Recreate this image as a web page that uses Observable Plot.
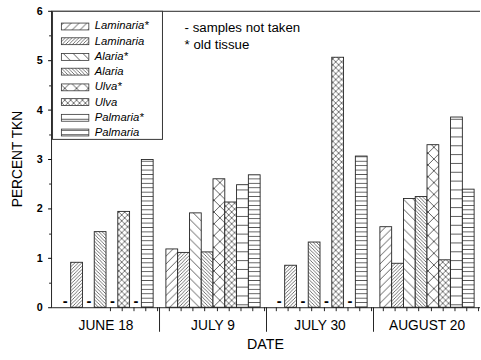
<!DOCTYPE html>
<html><head><meta charset="utf-8">
<script src="https://cdn.jsdelivr.net/npm/d3@7"></script>
<script src="https://cdn.jsdelivr.net/npm/@observablehq/plot@0.6"></script>
<style>
html,body{margin:0;padding:0;overflow:hidden;background:#fff;}
#chart{position:relative;width:481px;height:360px;overflow:hidden;}
#chart svg [aria-label^="y-axis"] text{font-weight:bold !important;font-size:11px !important;}
#chart svg [aria-label^="fx-axis"] text{font-size:14px !important;}
</style></head><body>
<svg width="0" height="0" style="position:absolute">
<defs>
<pattern id="pLamOld" patternUnits="userSpaceOnUse" width="8" height="8"><rect width="8" height="8" fill="#fff"/><path d="M-1,1 L1,-1 M0,8 L8,0 M7,9 L9,7" stroke="#333" stroke-width="0.8"/></pattern>
<pattern id="pLam" patternUnits="userSpaceOnUse" width="3.5" height="3.5"><rect width="3.5" height="3.5" fill="#fff"/><path d="M-1,1 L1,-1 M0,3.5 L3.5,0 M2.5,4.5 L4.5,2.5" stroke="#333" stroke-width="0.7"/></pattern>
<pattern id="pAlaOld" patternUnits="userSpaceOnUse" width="10" height="10"><rect width="10" height="10" fill="#fff"/><path d="M-1,9 L1,11 M0,0 L10,10 M9,-1 L11,1" stroke="#333" stroke-width="0.8"/></pattern>
<pattern id="pAla" patternUnits="userSpaceOnUse" width="3.5" height="3.5"><rect width="3.5" height="3.5" fill="#fff"/><path d="M-1,2.5 L1,4.5 M0,0 L3.5,3.5 M2.5,-1 L4.5,1" stroke="#333" stroke-width="0.7"/></pattern>
<pattern id="pUlvOld" patternUnits="userSpaceOnUse" width="12" height="12"><rect width="12" height="12" fill="#fff"/><path d="M0,0 L12,12 M0,12 L12,0" stroke="#333" stroke-width="0.8"/></pattern>
<pattern id="pUlv" patternUnits="userSpaceOnUse" width="6" height="6"><rect width="6" height="6" fill="#fff"/><path d="M0,0 L6,6 M0,6 L6,0" stroke="#333" stroke-width="0.7"/></pattern>
<pattern id="pPalOld" patternUnits="userSpaceOnUse" width="6" height="9"><rect width="6" height="9" fill="#fff"/><path d="M0,4.5 L6,4.5" stroke="#333" stroke-width="0.8"/></pattern>
<pattern id="pPal" patternUnits="userSpaceOnUse" width="6" height="4.5"><rect width="6" height="4.5" fill="#fff"/><path d="M0,2.25 L6,2.25" stroke="#333" stroke-width="0.8"/></pattern>
</defs></svg>
<div id="chart"></div>
<script>
// ---- data ----
const dates = ["JUNE 18", "JULY 9", "JULY 30", "AUGUST 20"];
const series = ["Laminaria*", "Laminaria", "Alaria*", "Alaria", "Ulva*", "Ulva", "Palmaria*", "Palmaria"];
const laminariaOld = [null, 1.18, null, 1.63];
const laminaria    = [0.91, 1.11, 0.85, 0.89];
const alariaOld    = [null, 1.91, null, 2.20];
const alaria       = [1.53, 1.12, 1.32, 2.24];
const ulvaOld      = [null, 2.60, null, 3.29];
const ulva         = [1.94, 2.13, 5.06, 0.96];
const palmariaOld  = [null, 2.48, null, 3.85];
const palmaria     = [2.99, 2.68, 3.06, 2.39];
const yTicks = [0, 1, 2, 3, 4, 5, 6];
const yMinor = [0.5, 1.5, 2.5, 3.5, 4.5, 5.5];
const notes = ["- samples not taken", "* old tissue"];
const patterns = ["url(#pLamOld)", "url(#pLam)", "url(#pAlaOld)", "url(#pAla)", "url(#pUlvOld)", "url(#pUlv)", "url(#pPalOld)", "url(#pPal)"];

const seriesValues = [laminariaOld, laminaria, alariaOld, alaria, ulvaOld, ulva, palmariaOld, palmaria];
const data = [];
dates.forEach((d, i) => seriesValues.forEach((arr, j) => data.push({date: d, series: series[j], value: arr[i]})));

const W = 490, H = 360, ML = 52, MR = 1, MT = 11, MB = 47;
const FONT = "'Liberation Sans', Arial, Helvetica, sans-serif";

const plot = Plot.plot({
  width: W, height: H,
  marginLeft: ML, marginRight: MR, marginTop: MT, marginBottom: MB,
  style: {fontFamily: FONT, fontSize: "11px", background: "white", color: "black", overflow: "visible"},
  facet: {data, x: "date", marginBottom: MB},
  fx: {domain: dates, padding: 0, axis: "bottom", tickSize: 0, tickPadding: 13, label: null},
  x: {domain: series, paddingInner: 0, paddingOuter: 0.44, axis: null},
  y: {domain: [0, 6], ticks: yTicks, tickSize: 4, tickPadding: 6, label: null, tickFormat: d3.format("d")},
  color: {domain: series, range: patterns},
  marks: [
    Plot.barY(data, {filter: d => d.value != null, x: "series", y: "value", fill: "series", stroke: "#222", strokeWidth: 0.9}),
    Plot.text(data, {filter: d => d.value == null, x: "series", y: () => 0, text: () => "-", dy: -7, fontWeight: "bold", fontSize: 15, fill: "#000"}),
    Plot.ruleY([0, 6], {stroke: "#222"})
  ]
});
document.getElementById("chart").appendChild(plot);

// ---- decorations using Plot's scales ----
const svg = d3.select(plot);
const y0 = H - MB;
const sy = plot.scale("y");
const yPos = v => (sy && sy.apply) ? sy.apply(v) : MT + (6 - v) / 6 * (y0 - MT);
const sfx = plot.scale("fx");
const sx = plot.scale("x");
const facetW = (W - ML - MR) / dates.length;
const step = facetW / (series.length + 2 * 0.44);
const fxPos = d => (sfx && sfx.apply) ? sfx.apply(d) : ML + dates.indexOf(d) * facetW;
const xPos = s => (sx && sx.apply) ? sx.apply(s) : step * (0.44 + series.indexOf(s));
const bw = (sx && sx.bandwidth) ? sx.bandwidth : step;

const g = svg.append("g").attr("stroke", "#222").attr("fill", "none");
// left axis line
g.append("line").attr("x1", ML + 0.5).attr("x2", ML + 0.5).attr("y1", MT).attr("y2", y0 + 0.5);
// minor y ticks
yMinor.forEach(v => {
  const yy = Math.round(yPos(v)) + 0.5;
  g.append("line").attr("x1", ML - 2).attr("x2", ML).attr("y1", yy).attr("y2", yy);
});
// slot ticks and group separators
dates.forEach((d, i) => {
  const gx = fxPos(d);
  series.forEach(s => {
    const xl = Math.round(gx + xPos(s)) + 0.5;
    g.append("line").attr("x1", xl).attr("x2", xl).attr("y1", y0).attr("y2", y0 + 4);
  });
  const xr = Math.round(gx + xPos(series[series.length - 1]) + bw) + 0.5;
  g.append("line").attr("x1", xr).attr("x2", xr).attr("y1", y0).attr("y2", y0 + 4);
  if (i > 0) {
    const sxp = Math.round(gx) + 0.5;
    g.append("line").attr("x1", sxp).attr("x2", sxp).attr("y1", y0).attr("y2", y0 + 25);
  }
});

// legend box
const lg = svg.append("g").attr("font-family", FONT).attr("text-anchor", "start");
lg.append("rect").attr("x", ML + 1.5).attr("y", MT + 0.5).attr("width", 112).attr("height", 130.5)
  .attr("fill", "#fff").attr("stroke", "#333");
series.forEach((s, i) => {
  const cy = 26 + i * 15.5;
  lg.append("rect").attr("x", 62.5).attr("y", Math.round(cy - 3.5) + 0.5).attr("width", 28).attr("height", 7)
    .attr("fill", patterns[i]).attr("stroke", "#333").attr("stroke-width", 0.8);
  lg.append("text").attr("x", 96.5).attr("y", cy + 4).attr("font-size", 11.5).attr("font-style", "italic")
    .attr("text-anchor", "start").attr("fill", "#000").text(s);
});

// notes
notes.forEach((t, i) => {
  svg.append("text").attr("x", 188).attr("y", 33 + i * 17).attr("font-family", FONT).attr("font-size", 13.5)
    .attr("text-anchor", "start").attr("fill", "#000").text(t);
});

// axis titles
svg.append("text").attr("transform", `translate(22,${(MT + y0) / 2}) rotate(-90)`).attr("text-anchor", "middle")
  .attr("font-family", FONT).attr("font-size", 14).attr("fill", "#000").text("PERCENT TKN");
svg.append("text").attr("x", (ML + W - MR) / 2).attr("y", 356).attr("text-anchor", "middle")
  .attr("font-family", FONT).attr("font-size", 14.5).attr("fill", "#000").text("DATE");
</script>
</body></html>
